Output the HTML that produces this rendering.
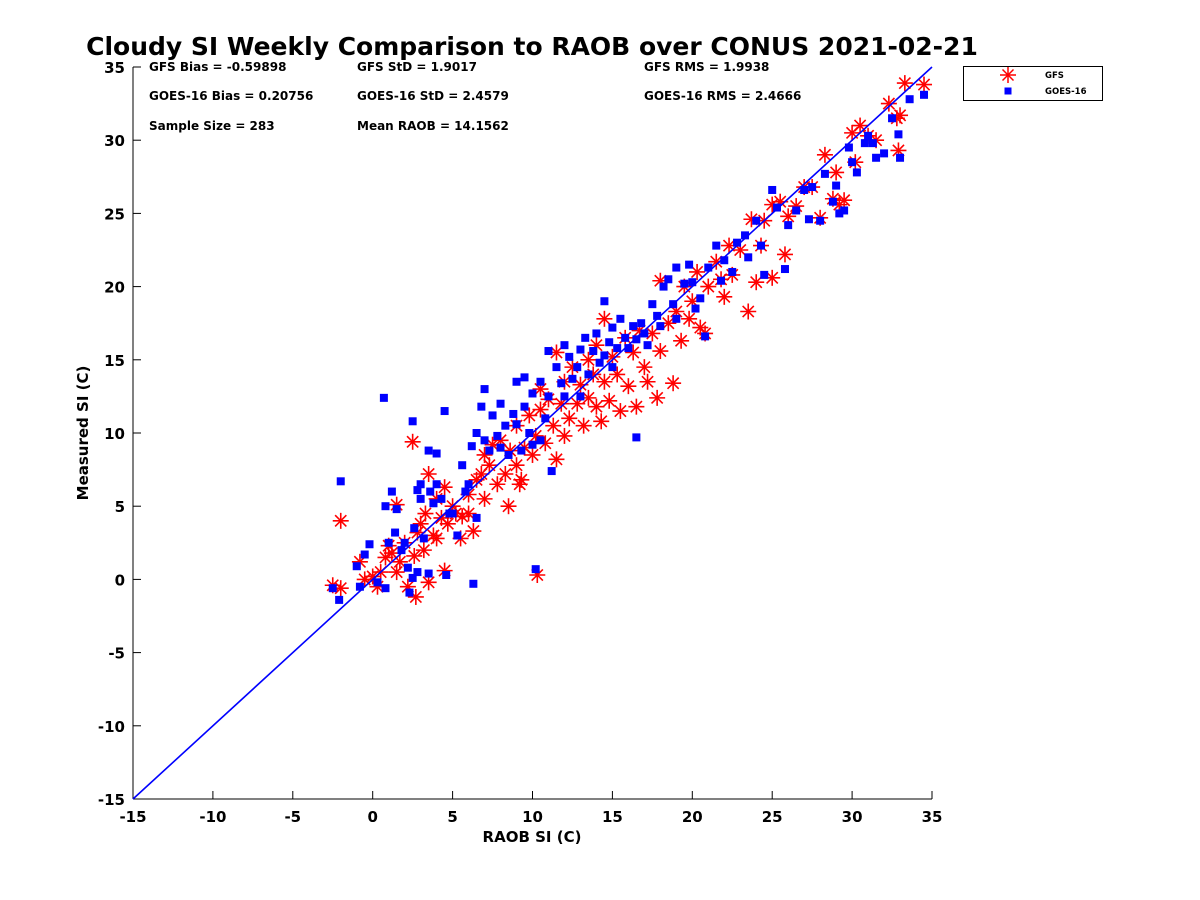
<!DOCTYPE html>
<html><head><meta charset="utf-8"><style>
body{margin:0;background:#fff;}
svg{display:block;font-family:"DejaVu Sans","Liberation Sans",sans-serif;font-weight:bold;}
</style></head><body>
<svg id="chart" width="1200" height="900">
<text x="532" y="55" text-anchor="middle" font-size="25">Cloudy SI Weekly Comparison to RAOB over CONUS 2021-02-21</text>
<g font-size="12">
<text x="149" y="71">GFS Bias = -0.59898</text>
<text x="357" y="71">GFS StD = 1.9017</text>
<text x="644" y="71">GFS RMS = 1.9938</text>
<text x="149" y="100">GOES-16 Bias = 0.20756</text>
<text x="357" y="100">GOES-16 StD = 2.4579</text>
<text x="644" y="100">GOES-16 RMS = 2.4666</text>
<text x="149" y="130">Sample Size = 283</text>
<text x="357" y="130">Mean RAOB = 14.1562</text>
</g>
<g id="axes"></g>
<g id="gfs"></g>
<g id="goes"></g>
<g id="ref"></g>
<text x="532" y="842" text-anchor="middle" font-size="15">RAOB SI (C)</text>
<text transform="translate(88,433) rotate(-90)" text-anchor="middle" font-size="15">Measured SI (C)</text>
<g>
<rect x="963.5" y="66.5" width="139" height="34" fill="#fff" stroke="#000" stroke-width="1"/>
<g stroke="#f00" stroke-width="1.5"><line x1="1000" y1="75" x2="1016" y2="75"/><line x1="1008" y1="67" x2="1008" y2="83"/><line x1="1002.5" y1="69.5" x2="1013.5" y2="80.5"/><line x1="1013.5" y1="69.5" x2="1002.5" y2="80.5"/></g>
<text x="1045" y="78" font-size="8.5">GFS</text>
<rect x="1004.5" y="87.5" width="7" height="7" fill="#00f"/>
<text x="1045" y="94" font-size="8.5">GOES-16</text>
</g>
</svg>
<script>
const xTicks=[-15,-10,-5,0,5,10,15,20,25,30,35];
const yTicks=[-15,-10,-5,0,5,10,15,20,25,30,35];
const gfsX=[-2.5,-2,-2,-0.8,-0.5,0,0.3,0.5,0.8,1,1.2,1.5,1.5,1.7,2,2.2,2.5,2.6,2.7,2.8,3,3.2,3.3,3.5,3.5,3.8,4,4,4.3,4.5,4.5,4.7,5,5.2,5.5,5.6,6,6,6.3,6.5,6.8,7,7,7.3,7.5,7.8,8,8.3,8.5,8.6,9,9,9.2,9.3,9.5,9.8,10,10.2,10.3,10.5,10.5,10.8,11,11.3,11.5,11.5,11.8,12,12,12.3,12.5,12.8,13,13.2,13.5,13.5,13.8,14,14,14.3,14.5,14.5,14.8,15,15.3,15.5,15.8,16,16.3,16.5,16.7,17,17.2,17.5,17.8,18,18,18.5,18.8,19,19.3,19.5,19.8,20,20.3,20.5,20.8,21,21.5,21.8,22,22.3,22.5,23,23.5,23.7,24,24.3,24.5,25,25,25.5,25.8,26,26.5,27,27.5,28,28.3,28.8,29,29.2,29.5,30,30.2,30.5,31,31.5,32.3,32.8,32.9,33,33.3,34.5];
const gfsY=[-0.4,-0.6,4,1.2,0,0.2,-0.5,0.5,1.5,2.3,1.8,0.5,5.1,1.2,2.5,-0.5,9.4,1.6,-1.2,3.2,3.8,2,4.5,7.2,-0.2,3,2.8,5.5,4.2,0.6,6.3,3.8,5,4.5,2.8,4.3,5.8,4.5,3.3,6.8,7.2,8.5,5.5,7.8,9.2,6.5,9.5,7.2,5,8.8,7.8,10.5,6.5,6.8,9,11.2,8.5,9.8,0.3,11.6,13,9.3,12.3,10.5,8.2,15.5,12,13.5,9.8,11,14.5,12,13.3,10.5,15,12.4,14,11.8,16,10.8,13.5,17.8,12.2,15.2,14,11.5,16.5,13.2,15.5,11.8,17,14.5,13.5,16.8,12.4,15.6,20.4,17.5,13.4,18.3,16.3,20,17.8,19,21,17.2,16.8,20,21.7,20.5,19.3,22.8,20.8,22.5,18.3,24.6,20.3,22.8,24.5,25.6,20.6,25.8,22.2,24.8,25.5,26.8,26.8,24.7,29,26,27.8,25.6,25.9,30.5,28.5,31,30.3,30,32.5,31.5,29.3,31.7,33.9,33.8];
const goesX=[-2.5,-2.1,-2,-1,-0.8,-0.5,-0.2,0.3,0.7,0.8,0.8,1,1.2,1.4,1.5,1.8,2,2.2,2.3,2.5,2.5,2.6,2.8,2.8,3,3,3.2,3.5,3.5,3.6,3.8,4,4,4.3,4.5,4.6,4.8,5,5.3,5.6,5.8,6,6.2,6.3,6.5,6.5,6.8,7,7,7.3,7.5,7.8,8,8,8.3,8.5,8.8,9,9,9.3,9.5,9.5,9.8,10,10,10.2,10.5,10.5,10.8,11,11,11.2,11.5,11.8,12,12,12.3,12.5,12.8,13,13,13.3,13.5,13.8,14,14.2,14.5,14.5,14.8,15,15,15.3,15.5,15.8,16,16.3,16.5,16.5,16.8,17,17.2,17.5,17.8,18,18.2,18.5,18.8,19,19,19.5,19.8,20,20.2,20.5,20.8,21,21.5,21.8,22,22.5,22.8,23.3,23.5,24,24.3,24.5,25,25.3,25.8,26,26.5,27,27.3,27.5,28,28.3,28.8,29,29.2,29.5,29.8,30,30.3,30.8,31,31.3,31.5,32,32.5,32.9,33,33.6,34.5];
const goesY=[-0.6,-1.4,6.7,0.9,-0.5,1.7,2.4,-0.2,12.4,5,-0.6,2.5,6,3.2,4.8,2,2.5,0.8,-0.9,10.8,0.1,3.5,6.1,0.5,6.5,5.5,2.8,8.8,0.4,6,5.2,8.6,6.5,5.5,11.5,0.3,4.5,4.5,3,7.8,6,6.5,9.1,-0.3,4.2,10,11.8,9.5,13,8.8,11.2,9.8,12,9,10.5,8.5,11.3,13.5,10.6,8.8,11.8,13.8,10,9.2,12.7,0.7,13.5,9.5,11,15.6,12.5,7.4,14.5,13.4,16,12.5,15.2,13.7,14.5,15.7,12.5,16.5,14,15.6,16.8,14.8,19,15.3,16.2,17.2,14.5,15.8,17.8,16.5,15.8,17.3,9.7,16.4,17.5,16.8,16,18.8,18,17.3,20,20.5,18.8,21.3,17.8,20.2,21.5,20.3,18.5,19.2,16.6,21.3,22.8,20.4,21.8,21,23,23.5,22,24.5,22.8,20.8,26.6,25.4,21.2,24.2,25.2,26.6,24.6,26.8,24.5,27.7,25.8,26.9,25,25.2,29.5,28.5,27.8,29.8,30.3,29.8,28.8,29.1,31.5,30.4,28.8,32.8,33.1];
const NS='http://www.w3.org/2000/svg';
const L=133,R=932,T=67,B=799,x0=-15,x1=35,y0=-15,y1=35;
function sx(v){return L+(v-x0)/(x1-x0)*(R-L);}
function sy(v){return B-(v-y0)/(y1-y0)*(B-T);}
function mk(tag,attrs,parent){const e=document.createElementNS(NS,tag);for(const k in attrs)e.setAttribute(k,attrs[k]);parent.appendChild(e);return e;}
const ax=document.getElementById('axes');
let e=mk('line',{x1:L,y1:B,x2:R,y2:B,stroke:'#000','stroke-width':1},ax);


e=mk('line',{x1:L,y1:T,x2:L,y2:B,stroke:'#000','stroke-width':1},ax);


xTicks.forEach(v=>{
  mk('line',{x1:sx(v),y1:B,x2:sx(v),y2:B-8,stroke:'#000'},ax);
  const t=mk('text',{x:sx(v),y:B+23,'text-anchor':'middle','font-size':15},ax);
  t.textContent=v;
  
  
});
yTicks.forEach(v=>{
  mk('line',{x1:L,y1:sy(v),x2:L+8,y2:sy(v),stroke:'#000'},ax);
  const t=mk('text',{x:L-8,y:sy(v)+6,'text-anchor':'end','font-size':15},ax);
  t.textContent=v;
  
  
});
const g1=document.getElementById('gfs');
gfsX.forEach((v,i)=>{
  const cx=sx(v),cy=sy(gfsY[i]),r=8,d=5.6;
  const g=mk('g',{stroke:'#f00','stroke-width':1.6},g1);
  
  
  mk('line',{x1:cx-r,y1:cy,x2:cx+r,y2:cy},g);
  mk('line',{x1:cx,y1:cy-r,x2:cx,y2:cy+r},g);
  mk('line',{x1:cx-d,y1:cy-d,x2:cx+d,y2:cy+d},g);
  mk('line',{x1:cx+d,y1:cy-d,x2:cx-d,y2:cy+d},g);
});
const g2=document.getElementById('goes');
goesX.forEach((v,i)=>{
  const r=mk('rect',{x:sx(v)-4,y:sy(goesY[i])-4,width:8,height:8,fill:'#00f'},g2);
  
  
});
const rl=mk('line',{x1:sx(-15),y1:sy(-15),x2:sx(35),y2:sy(35),stroke:'#00f','stroke-width':1.6},document.getElementById('ref'));


</script>
</body></html>
